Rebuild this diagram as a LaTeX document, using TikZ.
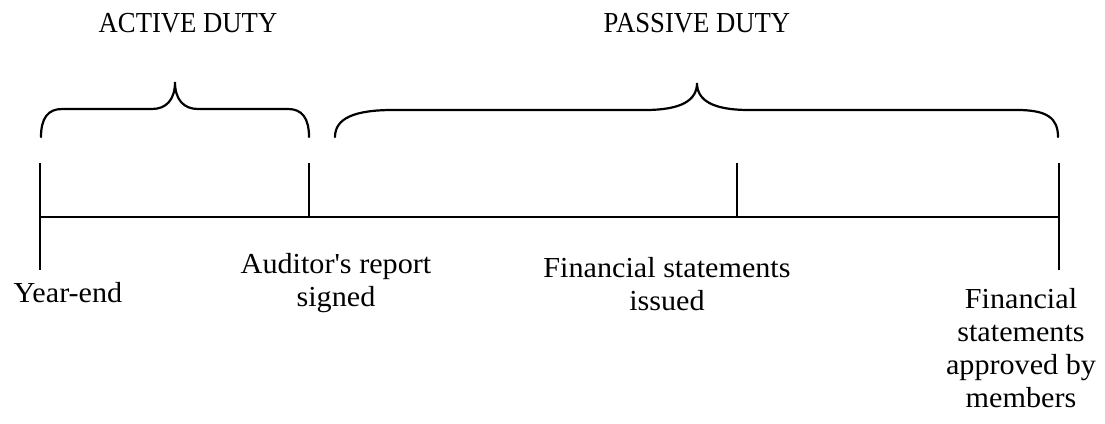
\documentclass[tikz,border=0pt]{standalone}
\usepackage{fontspec}
\newfontfamily\bodyfont{Liberation Serif}[FakeStretch=1.04]
\newfontfamily\headfont{Liberation Serif}[FakeStretch=0.92]
\begin{document}
\begin{tikzpicture}[x=1pt,y=-1pt,
  axis/.style={line width=2.6pt},
  tick/.style={line width=2.4pt},
  brace/.style={line width=2.2pt, line cap=round},
  lbl/.style={font=\bodyfont\fontsize{29}{33}\selectfont, align=center, inner sep=0pt},
  head/.style={font=\headfont\fontsize{29}{33}\selectfont, inner sep=0pt}]
\useasboundingbox (0,0) rectangle (1105,423);
% timeline points
\coordinate (ye) at (40,217);
\coordinate (ar) at (309,217);
\coordinate (fi) at (737,217);
\coordinate (fa) at (1059,217);
\coordinate (yeT) at (40,163);
\coordinate (yeB) at (40,270);
\coordinate (arT) at (309,163);
\coordinate (fiT) at (737,163);
\coordinate (faT) at (1059,163);
\coordinate (faB) at (1059,270);
\draw[axis] (ye) -- (fa);
\draw[tick] (yeT) -- (yeB);
\draw[tick] (arT) -- (ar);
\draw[tick] (fiT) -- (fi);
\draw[tick] (faT) -- (faB);
% active brace
\draw[brace] (41,137) .. controls (41,118) and (48,109) .. (62,109)
  -- (152,109) .. controls (166,109) and (175,100) .. (175,82)
  .. controls (175,100) and (184,109) .. (198,109)
  -- (288,109) .. controls (302,109) and (309,118) .. (309,137);
% passive brace
\draw[brace] (335,137) .. controls (335,118) and (355,110) .. (393,110)
  -- (645,110) .. controls (682,110) and (697,100) .. (697,83)
  .. controls (697,100) and (712,110) .. (749,110)
  -- (1017,110) .. controls (1047,110) and (1058,118) .. (1058,137);
% headings
\node[head] (active) at (188,23) {ACTIVE DUTY};
\node[head] (passive) at (697,23) {PASSIVE DUTY};
% labels
\node[lbl] (yel) at (68,293) {Year-end};
\node[lbl] (arl) at (336,283) {Auditor's report\\signed};
\node[lbl] (fil) at (667,284) {Financial statements\\issued};
\node[lbl] (fal) at (1021,348) {Financial\\statements\\approved by\\members};
\end{tikzpicture}
\end{document}
